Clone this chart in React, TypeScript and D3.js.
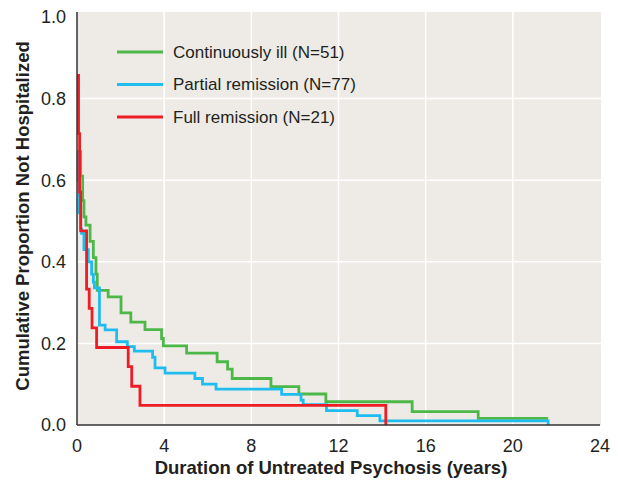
import React from "react";
import * as d3 from "d3";

const xTicks = [0, 4, 8, 12, 16, 20, 24];
const yTicks = [0, 0.2, 0.4, 0.6, 0.8, 1.0];

const seriesNames = ["Continuously ill (N=51)", "Partial remission (N=77)", "Full remission (N=21)"];
const seriesColors = ["#4db848", "#1fbcef", "#ee1c25"];

// [years, proportion]
const continuouslyIll: [number, number][] = [
  [0, 0.67], [0.17, 0.61], [0.26, 0.55], [0.32, 0.51], [0.41, 0.49], [0.6, 0.45],
  [0.75, 0.41], [0.87, 0.37], [0.93, 0.33], [1.43, 0.314], [2.02, 0.275], [2.47, 0.252],
  [3.12, 0.234], [3.88, 0.212], [3.96, 0.194], [5.03, 0.176], [6.43, 0.155], [6.91, 0.137],
  [7.12, 0.114], [8.9, 0.094], [10.18, 0.076], [11.42, 0.057], [15.38, 0.033],
  [18.41, 0.016], [21.62, 0.016],
];

const partialRemission: [number, number][] = [
  [0, 0.67], [0.05, 0.6], [0.1, 0.52], [0.17, 0.48], [0.21, 0.47], [0.32, 0.43],
  [0.52, 0.4], [0.67, 0.37], [0.75, 0.35], [0.8, 0.336], [1.03, 0.245], [1.29, 0.233],
  [1.82, 0.204], [2.31, 0.192], [2.63, 0.181], [3.47, 0.166], [3.58, 0.14], [4.04, 0.127],
  [5.41, 0.114], [5.76, 0.1], [6.38, 0.088], [9.39, 0.075], [10.28, 0.061], [10.38, 0.05],
  [11.45, 0.035], [12.86, 0.023], [13.9, 0.01], [21.62, 0.0],
];

const fullRemission: [number, number][] = [
  [0, 0.857], [0.07, 0.714], [0.12, 0.571], [0.17, 0.476], [0.44, 0.333], [0.56, 0.286],
  [0.69, 0.238], [0.9, 0.19], [2.35, 0.143], [2.51, 0.095], [2.89, 0.048], [14.17, 0.0],
];

const allSeries = [continuouslyIll, partialRemission, fullRemission];

const W = 618;
const H = 480;
const plotLeft = 77;
const plotRight = 600;
const plotTop = 12;
const plotBottom = 425;

export default function App() {
  const x = d3.scaleLinear().domain([0, 24]).range([plotLeft, plotRight]);
  const y = d3.scaleLinear().domain([0, 1]).range([plotBottom, 17]);
  const line = d3
    .line<[number, number]>()
    .x((d) => x(d[0]))
    .y((d) => y(d[1]))
    .curve(d3.curveStepAfter);

  const font = "'Liberation Sans', Arial, Helvetica, sans-serif";

  return (
    <svg
      width={W}
      height={H}
      style={{ position: "absolute", left: 0, top: 0, background: "#fff" }}
      fontFamily={font}
    >
      <rect x={plotLeft} y={plotTop} width={plotRight + 1 - plotLeft} height={plotBottom - plotTop} fill="#eeebe6" />
      {xTicks.slice(1, -1).map((t) => (
        <line key={"gx" + t} x1={x(t)} x2={x(t)} y1={plotTop} y2={plotBottom} stroke="#fff" strokeWidth={1.5} />
      ))}
      {yTicks.slice(1, -1).map((t) => (
        <line key={"gy" + t} x1={plotLeft} x2={plotRight + 1} y1={y(t)} y2={y(t)} stroke="#fff" strokeWidth={1.5} />
      ))}
      {allSeries.map((s, i) => (
        <path key={"s" + i} d={line(s) || ""} fill="none" stroke={seriesColors[i]} strokeWidth={2.8} />
      ))}
      <line x1={plotLeft} x2={plotLeft} y1={plotTop} y2={plotBottom} stroke="#333" strokeWidth={1.5} />
      <line x1={plotLeft} x2={plotRight} y1={plotBottom} y2={plotBottom} stroke="#333" strokeWidth={1.5} />
      {yTicks.map((t) => (
        <text key={"yt" + t} x={66} y={y(t)} dy="0.35em" textAnchor="end" fontSize={18} fill="#231f20">
          {t.toFixed(1)}
        </text>
      ))}
      {xTicks.map((t) => (
        <text key={"xt" + t} x={x(t)} y={446} dy="0.35em" textAnchor="middle" fontSize={18} fill="#231f20">
          {t}
        </text>
      ))}
      <text x={331} y={474} textAnchor="middle" fontSize={18.5} fontWeight="bold" fill="#231f20">
        Duration of Untreated Psychosis (years)
      </text>
      <text
        transform={`translate(29,216) rotate(-90)`}
        textAnchor="middle"
        fontSize={18.5}
        fontWeight="bold"
        fill="#231f20"
      >
        Cumulative Proportion Not Hospitalized
      </text>
      {seriesNames.map((n, i) => {
        const ly = 52 + i * 32.5;
        return (
          <g key={"lg" + i}>
            <line x1={117} x2={163} y1={ly} y2={ly} stroke={seriesColors[i]} strokeWidth={2.8} />
            <text x={173} y={ly} dy="0.35em" fontSize={17} fill="#231f20">
              {n}
            </text>
          </g>
        );
      })}
    </svg>
  );
}
